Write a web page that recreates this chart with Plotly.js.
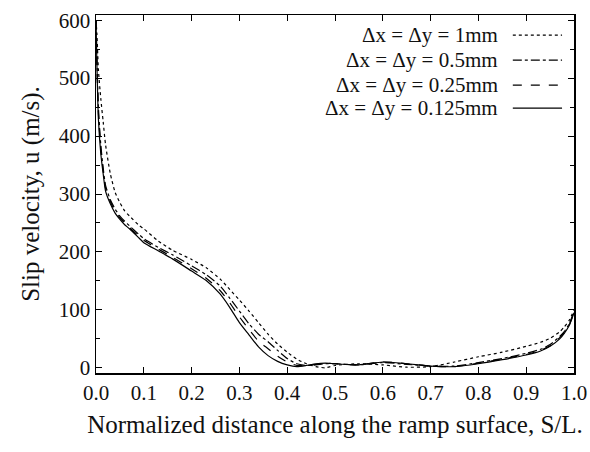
<!DOCTYPE html>
<html>
<head>
<meta charset="utf-8">
<script src="https://cdn.plot.ly/plotly-3.0.1.min.js"></script>
<style>html,body{margin:0;padding:0;background:#fff;}#chart{width:590px;height:452px;}
#fw{position:absolute;left:0;top:0;font-family:'Liberation Serif';font-size:4px;color:#fff;}</style>
</head>
<body>
<div id="chart"></div>
<div id="fw">0</div>
<script>
// Normalized distance S/L
const sL = [0, 0.002, 0.005, 0.01, 0.015, 0.02, 0.03, 0.04, 0.05, 0.06, 0.07, 0.09, 0.1, 0.13, 0.16, 0.2, 0.23, 0.26, 0.28, 0.3, 0.32, 0.34, 0.36, 0.38, 0.4, 0.42, 0.44, 0.46, 0.48, 0.5, 0.55, 0.6, 0.65, 0.7, 0.75, 0.8, 0.85, 0.9, 0.93, 0.95, 0.97, 0.98, 0.99, 1.0];
// Slip velocity (m/s) per grid size
const u1mm = [600, 575, 515, 465, 425, 385, 335, 303, 285, 271, 262, 246, 240, 219, 203, 187, 173, 153, 135, 117, 98, 78, 58, 41, 27, 15, 7, 2, 0, 4, 7, 5, 1, 2, 10, 19, 27, 37, 44, 51, 62, 71, 82, 100];
const u05mm = [600, 530, 450, 385, 345, 315, 290, 274, 262, 253, 245, 230, 223, 208, 195, 176, 161, 141, 120, 98, 76, 58, 45, 30, 16, 7, 4, 5, 7, 7, 5, 9, 6, 3, 3, 9, 16, 25, 32, 40, 54, 63, 76, 97];
const u025mm = [600, 525, 440, 378, 340, 310, 287, 270, 259, 250, 242, 227, 220, 205, 191, 171, 155, 133, 112, 88, 66, 46, 33, 20, 10, 4, 4, 6, 8, 7, 5, 10, 7, 3, 2, 8, 15, 23, 30, 38, 52, 61, 74, 96];
const u0125mm = [600, 520, 430, 370, 335, 305, 283, 267, 256, 247, 240, 224, 216, 202, 188, 167, 151, 127, 104, 78, 57, 36, 21, 11, 5, 2, 4, 7, 8, 7, 5, 10, 7, 3, 2, 7, 14, 22, 29, 37, 50, 60, 73, 95];
const seriesNames = ["\u0394x = \u0394y = 1mm", "\u0394x = \u0394y = 0.5mm", "\u0394x = \u0394y = 0.25mm", "\u0394x = \u0394y = 0.125mm"];
const xTicks = [0, 0.1, 0.2, 0.3, 0.4, 0.5, 0.6, 0.7, 0.8, 0.9, 1.0];
const xTickText = ["0.0", "0.1", "0.2", "0.3", "0.4", "0.5", "0.6", "0.7", "0.8", "0.9", "1.0"];

const allY = [u1mm, u05mm, u025mm, u0125mm];
const dashes = ["dot", "dashdot", "dash", "solid"];

const traces = allY.map((y, i) => ({
  x: sL, y: y, type: "scatter", mode: "lines", name: seriesNames[i],
  line: {color: "#000", width: 1.2, dash: dashes[i], shape: "spline", smoothing: 0.6},
  showlegend: false
}));

const rowsY = [0.944, 0.874, 0.804, 0.740];
const annotations = seriesNames.map((t, i) => ({
  xref: "paper", yref: "paper", x: 0.845, y: rowsY[i], text: t, showarrow: false,
  xanchor: "right", yanchor: "middle"
}));
const shapes = seriesNames.map((t, i) => ({
  type: "line", xref: "paper", yref: "paper", x0: 0.872, x1: 0.975, y0: rowsY[i], y1: rowsY[i],
  line: {color: "#000", width: 1.2, dash: dashes[i]}
}));

const layout = {
  width: 590, height: 452,
  margin: {l: 96, r: 16, t: 15, b: 79},
  font: {family: "Liberation Serif", size: 21, color: "#111"},
  xaxis: {
    range: [0, 1], tickvals: xTicks, ticktext: xTickText,
    ticks: "inside", ticklen: 6, tickwidth: 1, tickcolor: "#000",
    showline: true, linecolor: "#000", linewidth: 1.5, mirror: "ticks",
    showgrid: false, zeroline: false,
    title: {text: "Normalized distance along the ramp surface, S/L.", standoff: 12}
  },
  yaxis: {
    range: [-9, 609], tickvals: [0, 100, 200, 300, 400, 500, 600],
    ticks: "inside", ticklen: 6, tickwidth: 1, tickcolor: "#000",
    minor: {dtick: 50, tick0: 0, ticks: "inside", ticklen: 4, tickcolor: "#000"},
    showline: true, linecolor: "#000", linewidth: 1.5, mirror: "ticks",
    showgrid: false, zeroline: false,
    title: {text: "Slip velocity, u (m/s).", standoff: 12}
  },
  annotations: annotations,
  shapes: shapes,
  showlegend: false
};

Plotly.newPlot("chart", traces, layout, {staticPlot: true});
</script>
</body>
</html>
